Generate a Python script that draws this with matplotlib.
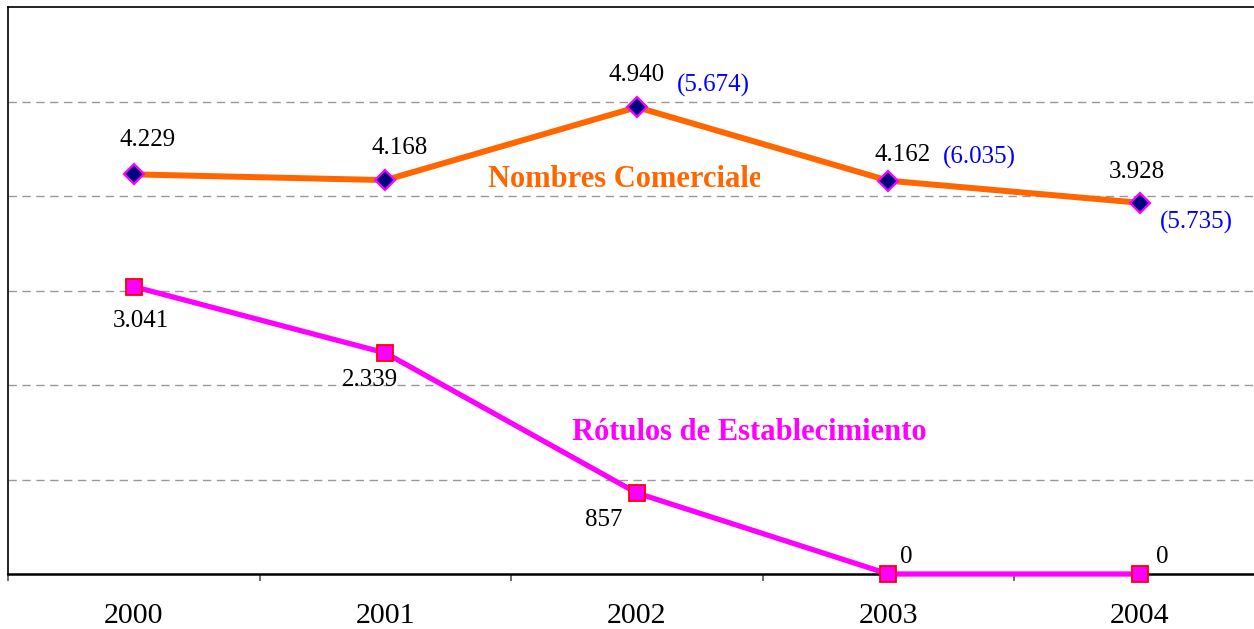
import numpy as np
import matplotlib.pyplot as plt
from matplotlib.transforms import Bbox, TransformedBbox

years = ["2000", "2001", "2002", "2003", "2004"]
nombres = [4229, 4168, 4940, 4162, 3928]
rotulos = [3041, 2339, 857, 0, 0]
# figures shown in brackets next to some points
extra_idx = [2, 3, 4]
extra_vals = [5674, 6035, 5735]

def fmt(v):
    # thousands separator with a dot, Spanish style
    return f"{v:,}".replace(",", ".")

plt.rcParams['font.family'] = ['Liberation Serif', 'DejaVu Serif']

W, H = 1254, 629
fig = plt.figure(figsize=(W / 100, H / 100), dpi=100)
left, right, top, bottom = 8, 1265.75, 7, 574
ax = fig.add_axes([left / W, 1 - bottom / H, (right - left) / W, (bottom - top) / H])

x = np.arange(len(years))
ax.set_xlim(-0.5, 4.5)
ax.set_ylim(0, 6000)

# gridlines
for gy in range(1000, 6000, 1000):
    ax.axhline(gy, color="#999999", lw=1, ls=(0, (6, 4)), zorder=1)

ax.plot(x, nombres, color="#FF6600", lw=4.3, marker="D", ms=10.5,
        mfc="#000080", mec="#FF00FF", mew=1.6, zorder=3)
ax.plot(x, rotulos, color="#FF00FF", lw=3.8, marker="s", ms=11,
        mfc="#FF00FF", mec="#FF0000", mew=1.3, zorder=4, clip_on=False)

# data labels (offsets in pixels)
off_n = [(14, 34), (14, 32), (0, 32), (14, 26), (-3, 31)]
for i, v in enumerate(nombres):
    ax.annotate(fmt(v), (x[i], v), xytext=off_n[i], textcoords="offset pixels",
                ha="center", va="center", fontsize=18, color="black")

off_e = [(76, 22), (91, 23), (56, -20)]
for j, i in enumerate(extra_idx):
    ax.annotate(f"({fmt(extra_vals[j])})", (x[i], nombres[i]), xytext=off_e[j],
                textcoords="offset pixels", ha="center", va="center",
                fontsize=18, color="#0000FF")

off_r = [(7, -34), (-15, -27), (-33, -27), (18, 17), (22, 17)]
for i, v in enumerate(rotulos):
    ax.annotate(fmt(v), (x[i], v), xytext=off_r[i], textcoords="offset pixels",
                ha="center", va="center", fontsize=18, color="black")

# series names; the first one is cut by its box on the right
t = ax.text(1.41, 4095, "Nombres Comerciales", color="#FF6600", fontsize=22,
            fontweight="bold", ha="left", va="baseline", zorder=5)
t.set_clip_box(TransformedBbox(Bbox([[1.3, 3500], [2.49, 4800]]), ax.transData))
t.set_clip_on(True)
ax.text(1.742, 1418, "Rótulos de Establecimiento", color="#FF00FF", fontsize=22,
        fontweight="bold", ha="left", va="baseline", zorder=5)

# axes styling
ax.set_xticks(x)
ax.set_xticklabels(years, fontsize=21.5)
ax.set_xticks(np.arange(-0.5, 5, 1), minor=True)
ax.tick_params(axis="x", which="major", length=0, pad=21)
ax.tick_params(axis="x", which="minor", length=5, width=1.2, color="#555555")
ax.set_yticks([])
ax.spines["right"].set_visible(False)
ax.spines["top"].set_linewidth(1.2)
ax.spines["left"].set_linewidth(1.2)
ax.spines["bottom"].set_linewidth(1.8)

fig.savefig("out.png", dpi=100)
